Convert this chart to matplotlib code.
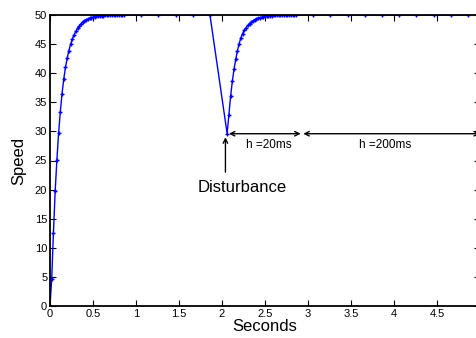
import numpy as np
import matplotlib
matplotlib.use('Agg')
import matplotlib.pyplot as plt

plt.rcParams['font.family'] = ['Liberation Sans', 'DejaVu Sans']

# sample steps (s)
h_fine = 0.02
h_coarse = 0.2

# start-up: fine steps 0 .. 0.86 s
speed_rise1 = [0, 4.7, 12.6, 19.7, 25.1, 29.7, 33.4, 36.5, 39.0, 41.0,
               42.6, 43.9, 45.0, 45.9, 46.6, 47.2, 47.7, 48.1, 48.5, 48.8,
               49.0, 49.2, 49.3, 49.45, 49.55, 49.6, 49.7, 49.75, 49.8, 49.85,
               49.87, 49.9, 49.92, 49.93, 49.95, 49.96, 49.97, 49.97, 49.98, 49.98,
               49.99, 49.99, 49.99, 50.0]
# steady: coarse steps 1.06 .. 1.86 s
speed_flat1 = [50, 50, 50, 50, 50]
# disturbance at 2.06 s, then fine steps to 2.86 s
speed_rise2 = [29.6, 32.9, 36.0, 38.6, 40.7, 42.4, 43.9, 45.1, 46.1, 46.8,
               47.4, 47.8, 48.2, 48.5, 48.8, 49.0, 49.2, 49.35, 49.45, 49.55,
               49.6, 49.7, 49.75, 49.8, 49.85, 49.87, 49.9, 49.92, 49.93, 49.95,
               49.96, 49.97, 49.97, 49.98, 49.98, 49.99, 49.99, 49.99, 50.0, 50.0,
               50.0]
# steady: coarse steps 3.06 .. 4.86 s
speed_flat2 = [50, 50, 50, 50, 50, 50, 50, 50, 50, 50]

t1 = np.round(np.arange(len(speed_rise1)) * h_fine, 4)
t2 = np.round(t1[-1] + h_coarse * np.arange(1, len(speed_flat1) + 1), 4)
t3 = np.round(t2[-1] + h_coarse + np.arange(len(speed_rise2)) * h_fine, 4)
t4 = np.round(t3[-1] + h_coarse * np.arange(1, len(speed_flat2) + 1), 4)

t = np.concatenate([t1, t2, t3, t4])
speed = np.concatenate([speed_rise1, speed_flat1, speed_rise2, speed_flat2])

t_dist = t3[0]
v_dist = speed_rise2[0]

fig = plt.figure(figsize=(4.77, 3.38), dpi=100)
ax = fig.add_axes([50/477, 32/338, 430/477, 291/338])

ax.plot(t, speed, '-', color='blue', lw=1, marker='+', ms=3.5, mew=1)

ax.set_xlim(0, 5)
ax.set_ylim(0, 50)
ax.set_xticks(np.arange(0, 5, 0.5))
ax.set_xticklabels(['0', '0.5', '1', '1.5', '2', '2.5', '3', '3.5', '4', '4.5'])
ax.set_yticks(np.arange(0, 51, 5))
ax.tick_params(direction='in', length=4, labelsize=8, top=True, right=True, pad=2)
for s in ax.spines.values():
    s.set_linewidth(1.3)

ax.set_xlabel('Seconds', fontsize=12, labelpad=0)
ax.set_ylabel('Speed', fontsize=12, labelpad=6)

# step size arrows
ax.annotate('', xy=(2.08, v_dist), xytext=(2.915, v_dist),
            arrowprops=dict(arrowstyle='<->', color='black', lw=1, mutation_scale=8,
                            shrinkA=0, shrinkB=0))
ax.annotate('', xy=(2.945, v_dist), xytext=(5.0, v_dist),
            arrowprops=dict(arrowstyle='<->', color='black', lw=1, mutation_scale=8,
                            shrinkA=0, shrinkB=0))
ax.text(2.55, v_dist - 1.9, 'h =20ms', fontsize=8.5, ha='center', va='center')
ax.text(3.9, v_dist - 1.9, 'h =200ms', fontsize=8.5, ha='center', va='center')

# disturbance marker
ax.annotate('', xy=(t_dist - 0.02, v_dist - 0.6), xytext=(t_dist - 0.02, v_dist - 6.6),
            arrowprops=dict(arrowstyle='->', color='black', lw=1, mutation_scale=8,
                            shrinkA=0, shrinkB=0))
ax.text(t_dist + 0.18, v_dist - 9.2, 'Disturbance', fontsize=12, ha='center', va='center')

fig.savefig('out.png', dpi=100)
